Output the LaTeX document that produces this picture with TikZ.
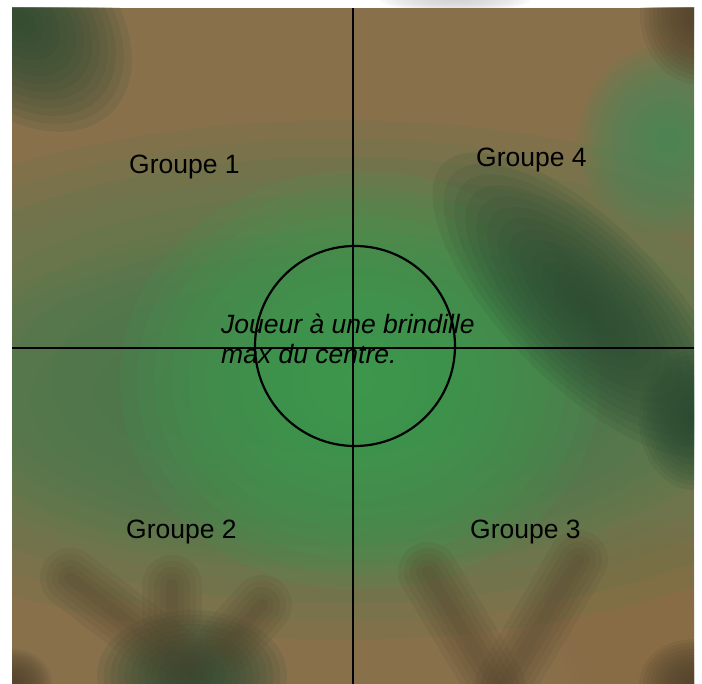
\documentclass[tikz,border=0pt]{standalone}
\usepackage{fontspec}
\setmainfont{Liberation Sans}
\usepackage{xcolor}
\usepackage{tikz}
\definecolor{BarkBrown}{HTML}{88704B}
\definecolor{WarmBark}{HTML}{8E6C45}
\definecolor{DeepBark}{HTML}{4F412B}
\definecolor{MossGreen}{HTML}{4A7E4C}
\definecolor{LeafGreen}{HTML}{3DA04B}
\definecolor{ShadeGreen}{HTML}{2A4A32}
\definecolor{PaleGreen}{HTML}{468A5A}
\newcommand{\softblob}[5][0]{%
  \foreach \k in {1,...,14} {
    \fill[#2, opacity=0.12, rotate around={#1:#3}] #3 ellipse [x radius={#4*\k/14}, y radius={#5*\k/14}];
  }}

\begin{document}
\begin{tikzpicture}[
    x=1pt, y=-1pt,
    twig/.style={line cap=round, color=DeepBark, opacity=0.11},
    reticle/.style={line width=2.2pt, color=black},
    groupe/.style={anchor=base west, inner sep=0pt, font=\fontsize{26.5}{30}\selectfont},
    joueur/.style={anchor=north west, inner sep=0pt, align=left, font=\fontsize{26.5}{30}\selectfont\itshape}
  ]
    \useasboundingbox (0,0) rectangle (702,684);
    \begin{scope}
      \clip (0,0) rectangle (702,8);
      \softblob{gray!40}{(455,0)}{75}{12}
    \end{scope}

    \begin{scope}
      \clip (12,8) rectangle (694,684);
      \fill[BarkBrown] (12,8) rectangle (694,684);
      \softblob{WarmBark}{(660,630)}{120}{110}
      \softblob{MossGreen}{(340,380)}{580}{260}
      \softblob{MossGreen}{(330,400)}{420}{170}
      \softblob{LeafGreen}{(360,380)}{240}{210}
      \softblob[-45]{ShadeGreen}{(585,305)}{200}{80}
      \softblob{ShadeGreen}{(694,420)}{55}{70}
      \softblob[-45]{ShadeGreen}{(20,20)}{130}{90}
      \softblob{PaleGreen}{(668,140)}{90}{95}
      \softblob{DeepBark}{(700,15)}{60}{70}
      \softblob{ShadeGreen}{(192,675)}{95}{65}
      \softblob{DeepBark}{(694,684)}{55}{45}
      \softblob{DeepBark}{(12,684)}{40}{35}
      \foreach \w in {60,48,36,24,12} {
        \draw[twig, line width=\w pt] (70,578) -- (185,665);
        \draw[twig, line width=\w pt] (172,585) -- (172,615);
        \draw[twig, line width=\w pt] (262,605) -- (229,642);
        \draw[twig, line width=\w pt] (428,572) -- (495,684);
        \draw[twig, line width=\w pt] (578,560) -- (505,684);
      }
    \end{scope}

    \coordinate (ctr) at (355,346);
    \coordinate (nord) at (353,8);
    \coordinate (sud) at (353,684);
    \coordinate (ouest) at (12,348);
    \coordinate (est) at (694,348);

    \draw[reticle] (nord) -- (sud);
    \draw[reticle] (ouest) -- (est);
    \draw[reticle] (ctr) circle [radius=100];

    \node[groupe] (grp1) at (129,174) {Groupe 1};
    \node[groupe] (grp4) at (476,167) {Groupe 4};
    \node[groupe] (grp2) at (126,539) {Groupe 2};
    \node[groupe] (grp3) at (470,539) {Groupe 3};
    \node[joueur] (joueur) at (221,314) {Joueur à une brindille\\max du centre.};
  \end{tikzpicture}
\end{document}
